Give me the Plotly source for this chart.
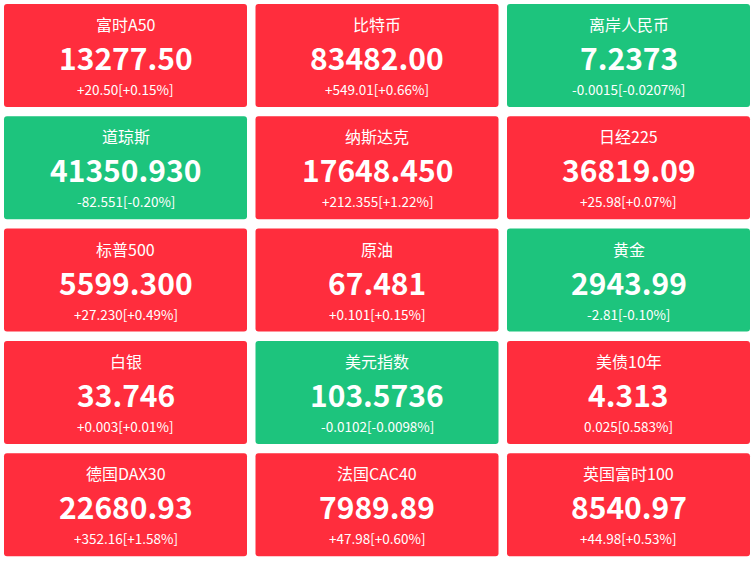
import plotly.graph_objects as go

names = ["富时A50", "比特币", "离岸人民币", "道琼斯", "纳斯达克", "日经225",
         "标普500", "原油", "黄金", "白银", "美元指数", "美债10年",
         "德国DAX30", "法国CAC40", "英国富时100"]
values = ["13277.50", "83482.00", "7.2373", "41350.930", "17648.450", "36819.09",
          "5599.300", "67.481", "2943.99", "33.746", "103.5736", "4.313",
          "22680.93", "7989.89", "8540.97"]
changes = ["+20.50[+0.15%]", "+549.01[+0.66%]", "-0.0015[-0.0207%]",
           "-82.551[-0.20%]", "+212.355[+1.22%]", "+25.98[+0.07%]",
           "+27.230[+0.49%]", "+0.101[+0.15%]", "-2.81[-0.10%]",
           "+0.003[+0.01%]", "-0.0102[-0.0098%]", "0.025[0.583%]",
           "+352.16[+1.58%]", "+47.98[+0.60%]", "+44.98[+0.53%]"]
is_down = [c.startswith("-") for c in changes]

RED = "#FF2D3D"
GREEN = "#1DC47D"
FONT = "Noto Sans CJK SC"

W, H = 753, 561
x0, y0, tw, th, gx, gy = 4, 4, 243, 103, 8.5, 9.3

fig = go.Figure()
shapes, annotations = [], []
for i, name in enumerate(names):
    r, c = divmod(i, 3)
    left = x0 + c * (tw + gx)
    top = y0 + r * (th + gy)
    cx = left + tw / 2
    color = GREEN if is_down[i] else RED
    R = 3
    path = (f"M{left+R},{top} L{left+tw-R},{top} Q{left+tw},{top} {left+tw},{top+R} "
            f"L{left+tw},{top+th-R} Q{left+tw},{top+th} {left+tw-R},{top+th} "
            f"L{left+R},{top+th} Q{left},{top+th} {left},{top+th-R} "
            f"L{left},{top+R} Q{left},{top} {left+R},{top} Z")
    shapes.append(dict(type="path", path=path, xref="x", yref="y",
                       fillcolor=color, line=dict(width=0), layer="below"))
    annotations.append(dict(x=cx, y=top + 20, text=name, showarrow=False,
                            font=dict(family=FONT, size=16, color="white")))
    annotations.append(dict(x=cx, y=top + 53, text=f"<b>{values[i]}</b>", showarrow=False,
                            font=dict(family=FONT, size=30, color="white")))
    annotations.append(dict(x=cx, y=top + 85, text=changes[i], showarrow=False,
                            font=dict(family=FONT, size=13.5, color="white")))

fig.update_layout(
    width=W, height=H, margin=dict(l=0, r=0, t=0, b=0),
    paper_bgcolor="white", plot_bgcolor="white",
    xaxis=dict(range=[0, W], visible=False, fixedrange=True),
    yaxis=dict(range=[H, 0], visible=False, fixedrange=True),
    shapes=shapes, annotations=annotations, showlegend=False,
)
# drop the default page margin so the tiles line up with the window edge
fig.write_html("out.html", config={"displayModeBar": False},
               post_script="document.body.style.margin='0';document.body.style.overflow='hidden';")
